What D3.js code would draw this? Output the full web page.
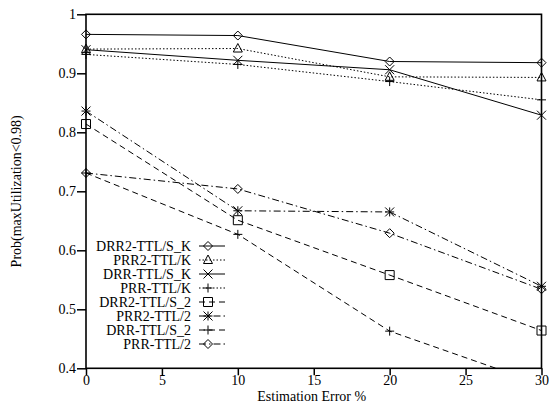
<!DOCTYPE html>
<html>
<head>
<meta charset="utf-8">
<script src="https://cdn.jsdelivr.net/npm/d3@7"></script>
<style>
  html, body { margin: 0; padding: 0; background: #fff; }
  svg { display: block; }
  text { font-family: "Liberation Serif", "Times New Roman", serif; fill: #000; }
</style>
</head>
<body>
<svg id="chart" width="549" height="404"></svg>
<script>
// ---- data ----
const xValues = [0, 10, 20, 30];
const seriesNames = [
  "DRR2-TTL/S_K", "PRR2-TTL/K", "DRR-TTL/S_K", "PRR-TTL/K",
  "DRR2-TTL/S_2", "PRR2-TTL/2", "DRR-TTL/S_2", "PRR-TTL/2"
];
const drr2TtlSK = [0.966, 0.964, 0.920, 0.918];
const prr2TtlK  = [0.941, 0.942, 0.894, 0.893];
const drrTtlSK  = [0.940, 0.922, 0.906, 0.829];
const prrTtlK   = [0.932, 0.915, 0.886, 0.855];
const drr2TtlS2 = [0.814, 0.651, 0.558, 0.464];
const prr2Ttl2  = [0.836, 0.667, 0.665, 0.539];
const drrTtlS2  = [0.731, 0.627, 0.463, 0.373];
const prrTtl2   = [0.731, 0.704, 0.629, 0.534];
const seriesValues = [drr2TtlSK, prr2TtlK, drrTtlSK, prrTtlK, drr2TtlS2, prr2Ttl2, drrTtlS2, prrTtl2];
const xTicks = [0, 5, 10, 15, 20, 25, 30];
const yTicks = [0.4, 0.5, 0.6, 0.7, 0.8, 0.9, 1];
const xTitle = "Estimation Error %";
const yTitle = "Prob(maxUtilization<0.98)";

// ---- styles ----
const dashes = ["none", "1.5,2", "none", "1.5,2", "6,4", "7,3,1.5,3", "6,4", "7,3,1.5,3"];
const markers = ["diamond", "triangle", "cross", "plus", "square", "asterisk", "plus", "diamond"];

const svg = d3.select("#chart");
const W = 549, H = 404;
const m = { left: 86, right: 7.5, top: 14.3, bottom: 35.7 };
const iw = W - m.left - m.right, ih = H - m.top - m.bottom;

const x = d3.scaleLinear().domain([0, 30]).range([m.left, m.left + iw]);
const y = d3.scaleLinear().domain([0.4, 1]).range([m.top + ih, m.top]);

svg.append("defs").append("clipPath").attr("id", "clip")
  .append("rect").attr("x", m.left).attr("y", m.top).attr("width", iw).attr("height", ih);

// axes
const fmt = d => d3.format("~g")(d);
const gx = svg.append("g").attr("transform", `translate(0,${m.top + ih})`)
  .call(d3.axisBottom(x).tickValues(xTicks).tickSize(7).tickPadding(0).tickFormat(fmt));
const gy = svg.append("g").attr("transform", `translate(${m.left},0)`)
  .call(d3.axisLeft(y).tickValues(yTicks).tickSize(9).tickPadding(1).tickFormat(fmt));
[gx, gy].forEach(g => {
  g.select(".domain").remove();
  g.selectAll(".tick line").attr("stroke", "#000").attr("stroke-width", 1.5);
  g.selectAll(".tick text").attr("font-size", 14).attr("font-family", "Liberation Serif");
});

// frame
svg.append("rect").attr("x", m.left).attr("y", m.top).attr("width", iw).attr("height", ih)
  .attr("fill", "none").attr("stroke", "#000").attr("stroke-width", 1.6);

// titles
svg.append("text").attr("x", x(15) - 2).attr("y", 400.6).attr("text-anchor", "middle")
  .attr("font-size", 14).text(xTitle);
svg.append("text").attr("transform", `translate(21,${m.top + ih / 2}) rotate(-90)`)
  .attr("text-anchor", "middle").attr("font-size", 14).text(yTitle);

// marker drawing
function drawMarker(g, type, cx, cy) {
  const s = 4.5;
  const p = g.append("path").attr("fill", "none").attr("stroke", "#000").attr("stroke-width", 1);
  let d = "";
  if (type === "diamond") d = `M${cx},${cy - s}L${cx + s},${cy}L${cx},${cy + s}L${cx - s},${cy}Z`;
  else if (type === "triangle") d = `M${cx},${cy - s - 0.5}L${cx + s},${cy + s - 1}L${cx - s},${cy + s - 1}Z`;
  else if (type === "square") d = `M${cx - s},${cy - s}h${2 * s}v${2 * s}h${-2 * s}Z`;
  else if (type === "cross") d = `M${cx - s},${cy - s}L${cx + s},${cy + s}M${cx - s},${cy + s}L${cx + s},${cy - s}`;
  else if (type === "plus") d = `M${cx - s},${cy}H${cx + s}M${cx},${cy - s}V${cy + s}`;
  else if (type === "asterisk") d = `M${cx - s},${cy - s}L${cx + s},${cy + s}M${cx - s},${cy + s}L${cx + s},${cy - s}M${cx - s},${cy}H${cx + s}M${cx},${cy - s}V${cy + s}`;
  p.attr("d", d);
}

const line = d3.line().x((d, i) => x(xValues[i])).y(d => y(d));
const plot = svg.append("g").attr("clip-path", "url(#clip)");
seriesValues.forEach((vals, k) => {
  plot.append("path").datum(vals).attr("d", line)
    .attr("fill", "none").attr("stroke", "#000").attr("stroke-width", 1)
    .attr("stroke-dasharray", dashes[k] === "none" ? null : dashes[k]);
  const mg = svg.append("g");
  vals.forEach((v, i) => {
    if (v >= 0.4 && v <= 1) drawMarker(mg, markers[k], x(xValues[i]), y(v));
  });
});

// legend
const lg = svg.append("g");
seriesNames.forEach((name, k) => {
  const cy = 246 + k * 14;
  lg.append("text").attr("x", 191).attr("y", cy + 5).attr("text-anchor", "end")
    .attr("font-size", 14).text(name);
  lg.append("line").attr("x1", 199).attr("x2", 225).attr("y1", cy).attr("y2", cy)
    .attr("stroke", "#000").attr("stroke-width", 1)
    .attr("stroke-dasharray", dashes[k] === "none" ? null : dashes[k]);
  drawMarker(lg, markers[k], 208, cy);
});
</script>
</body>
</html>
